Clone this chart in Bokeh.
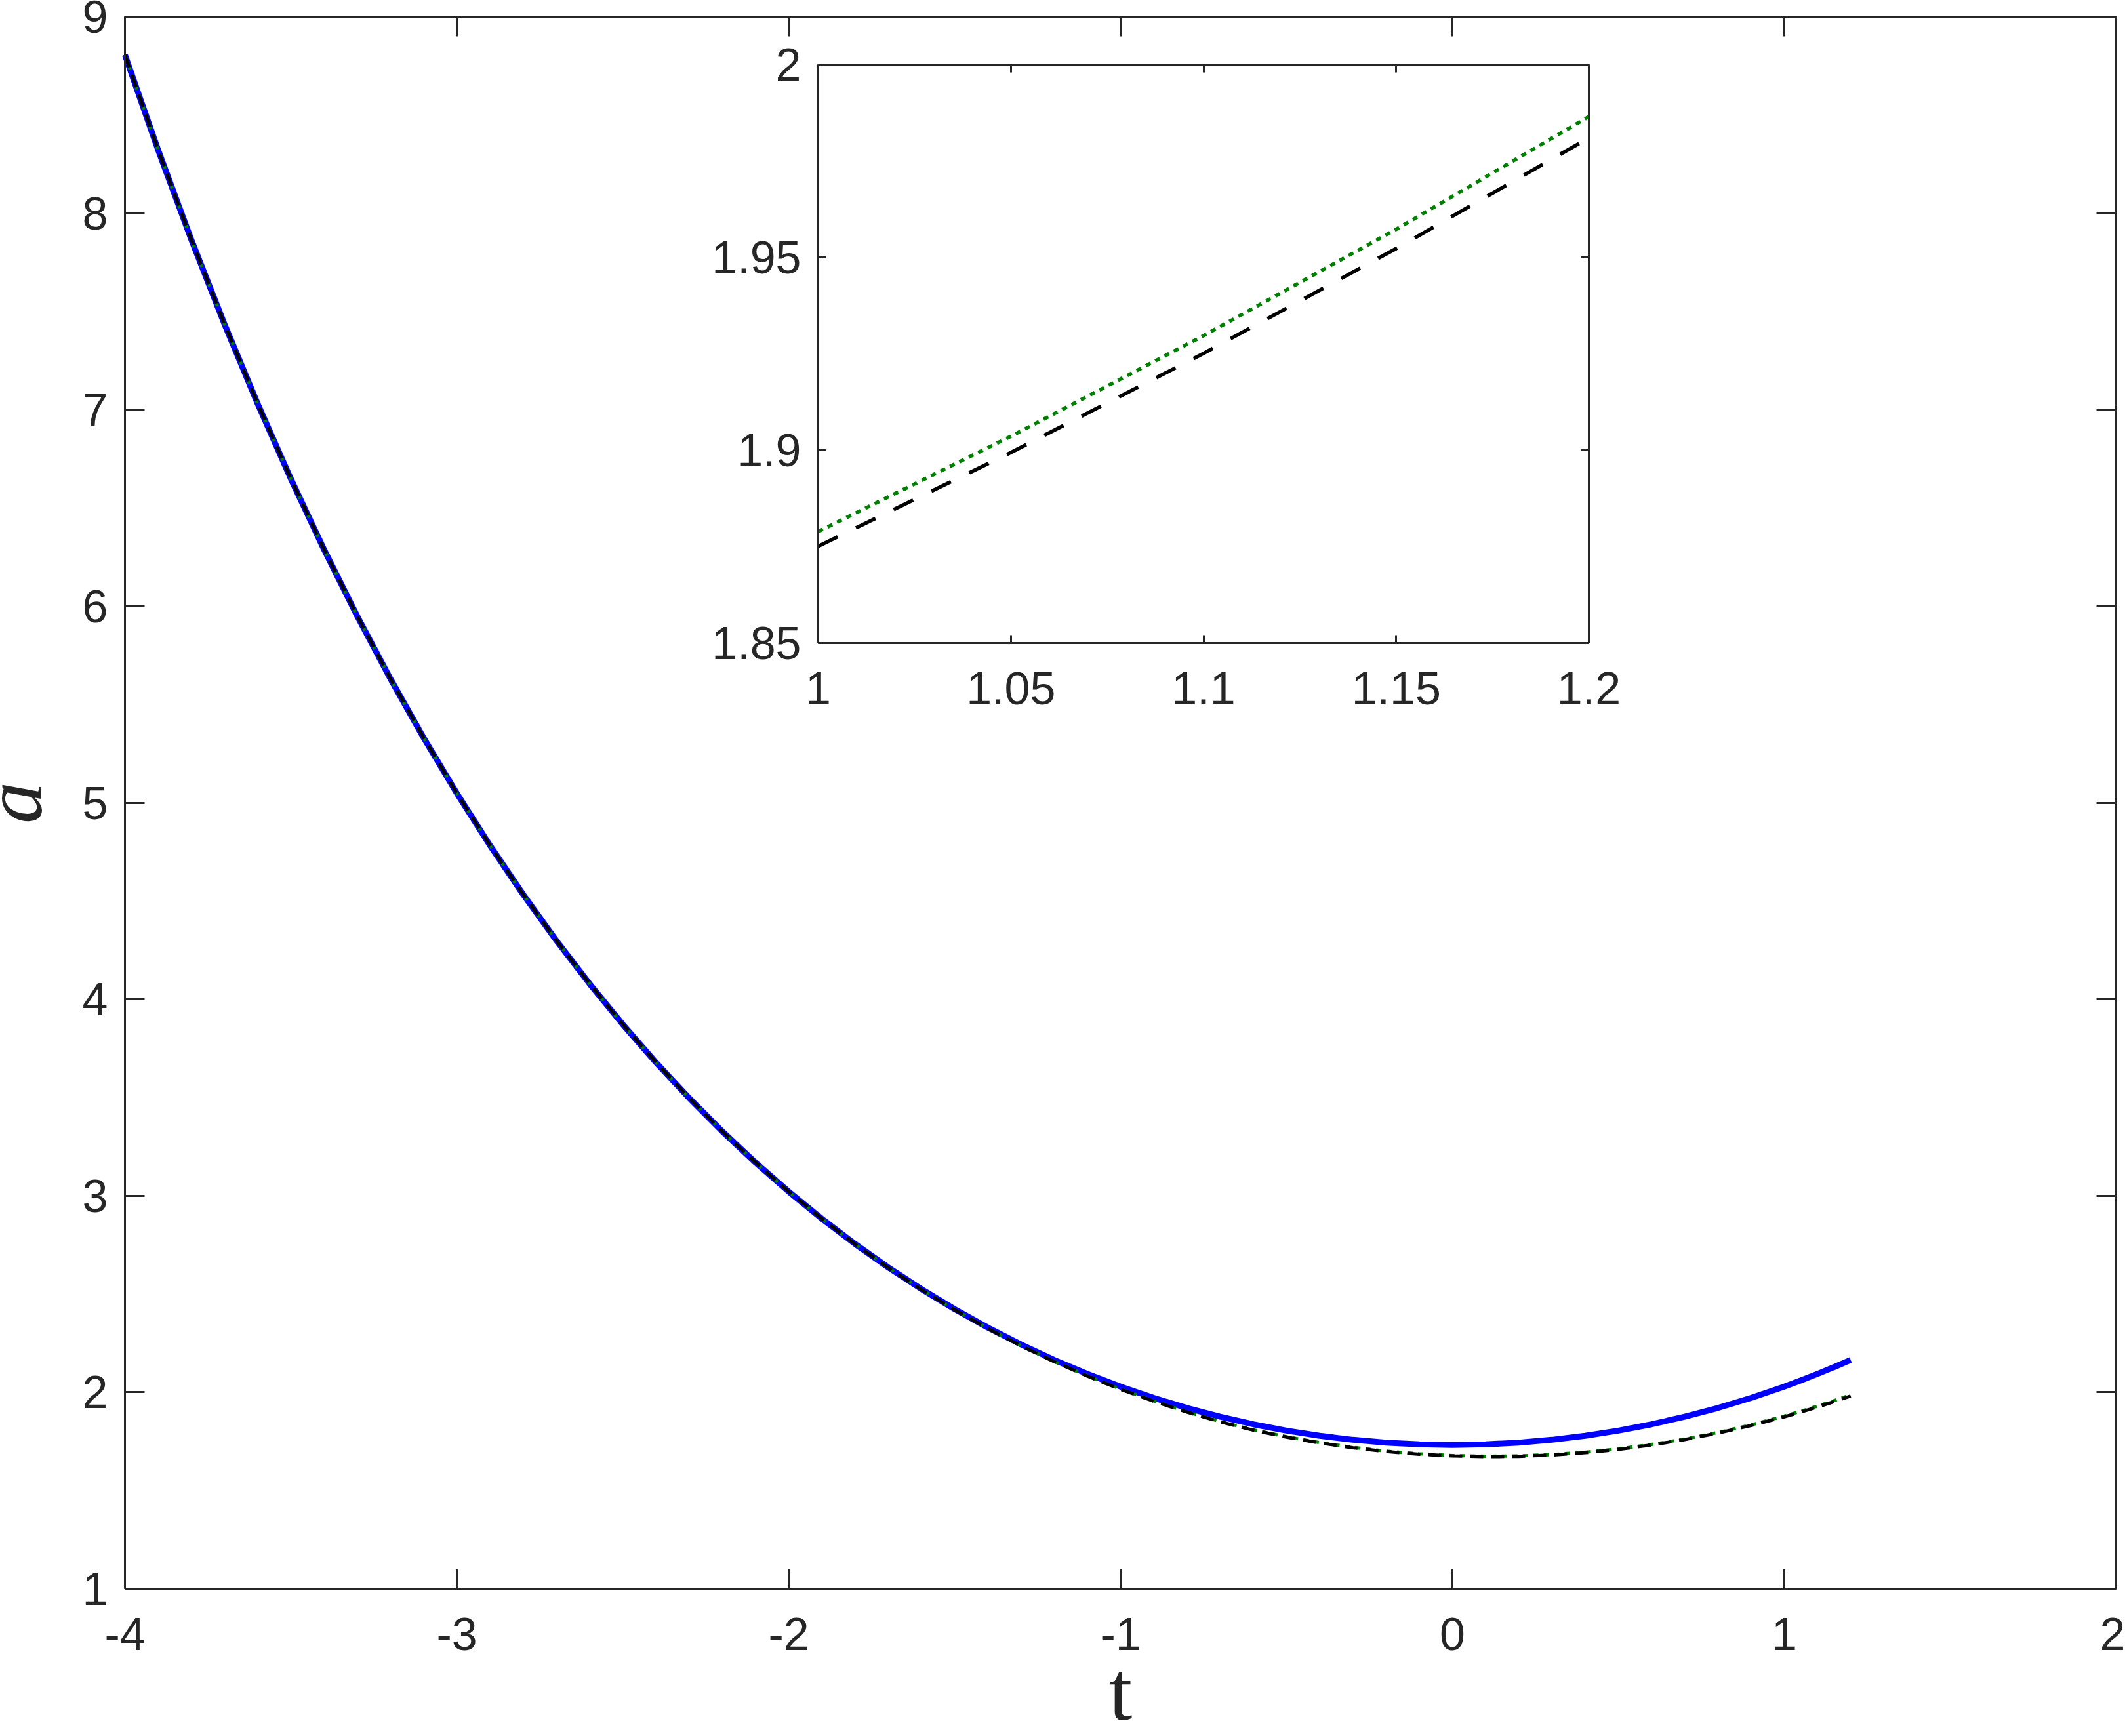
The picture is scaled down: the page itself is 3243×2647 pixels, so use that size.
import math
from bokeh.plotting import figure
from bokeh.models import Range1d, LinearAxis, FixedTicker, Label, CustomLabelingPolicy
from bokeh.embed import file_html
from bokeh.resources import INLINE

# ---------------- data ----------------
t = [-4.0, -3.9, -3.8, -3.7, -3.6, -3.5, -3.4, -3.3, -3.2, -3.1,
     -3.0, -2.9, -2.8, -2.7, -2.6, -2.5, -2.4, -2.3, -2.2, -2.1,
     -2.0, -1.9, -1.8, -1.7, -1.6, -1.5, -1.4, -1.3, -1.2, -1.1,
     -1.0, -0.9, -0.8, -0.7, -0.6, -0.5, -0.4, -0.3, -0.2, -0.1,
     0.0, 0.1, 0.2, 0.3, 0.4, 0.5, 0.6, 0.7, 0.8, 0.9,
     1.0, 1.05, 1.1, 1.15, 1.2]

a_blue = [8.8055, 8.3215, 7.8652, 7.4351, 7.0298, 6.6479, 6.2883, 5.9495, 5.6306, 5.3305,
          5.0482, 4.7827, 4.5331, 4.2987, 4.0786, 3.8721, 3.6785, 3.4972, 3.3275, 3.1689,
          3.0209, 2.8830, 2.7546, 2.6355, 2.5251, 2.4232, 2.3293, 2.2433, 2.1647, 2.0933,
          2.0288, 1.9712, 1.9201, 1.8754, 1.8370, 1.8047, 1.7784, 1.7581, 1.7436, 1.7349,
          1.7321, 1.7349, 1.7436, 1.7581, 1.7784, 1.8047, 1.8370, 1.8754, 1.9201, 1.9712,
          2.0288, 2.0602, 2.0933, 2.1281, 2.1647]

a_black = [8.8055, 8.3215, 7.8652, 7.4351, 7.0298, 6.6479, 6.2883, 5.9495, 5.6306, 5.3305,
           5.0482, 4.7827, 4.5331, 4.2987, 4.0786, 3.8721, 3.6785, 3.4972, 3.3275, 3.1689,
           3.0209, 2.8830, 2.7536, 2.6335, 2.5221, 2.4192, 2.3243, 2.2363, 2.1557, 2.0823,
           2.0148, 1.9542, 1.8991, 1.8497, 1.8071, 1.7718, 1.7420, 1.7176, 1.6984, 1.6845,
           1.6757, 1.6721, 1.6736, 1.6803, 1.6922, 1.7093, 1.7316, 1.7592, 1.7923, 1.8309,
           1.8751, 1.8994, 1.9251, 1.9523, 1.9810]

a_green = [8.8055, 8.3215, 7.8652, 7.4351, 7.0298, 6.6479, 6.2883, 5.9495, 5.6306, 5.3305,
           5.0482, 4.7827, 4.5331, 4.2987, 4.0786, 3.8721, 3.6785, 3.4972, 3.3275, 3.1689,
           3.0209, 2.8830, 2.7540, 2.6340, 2.5226, 2.4198, 2.3250, 2.2371, 2.1566, 2.0833,
           2.0159, 1.9554, 1.9004, 1.8511, 1.8086, 1.7734, 1.7437, 1.7194, 1.7003, 1.6865,
           1.6778, 1.6743, 1.6759, 1.6827, 1.6947, 1.7119, 1.7343, 1.7620, 1.7952, 1.8340,
           1.8789, 1.9036, 1.9297, 1.9573, 1.9865]

x_ticks = [-4, -3, -2, -1, 0, 1, 2]
x_tick_labels = ["-4", "-3", "-2", "-1", "0", "1", "2"]
y_ticks = [1, 2, 3, 4, 5, 6, 7, 8, 9]
y_tick_labels = ["1", "2", "3", "4", "5", "6", "7", "8", "9"]

inset_x_ticks = [1.0, 1.05, 1.1, 1.15, 1.2]
inset_x_tick_labels = ["1", "1.05", "1.1", "1.15", "1.2"]
inset_y_ticks = [1.85, 1.9, 1.95, 2.0]
inset_y_tick_labels = ["1.85", "1.9", "1.95", "2"]

x_label = "t"
y_label = "a"

# ---------------- layout (page pixels) ----------------
W, H = 3240, 2644
# main axes box
M_L, M_R, M_T, M_B = 190, 3226, 25, 2422
# inset axes box
I_L, I_R, I_T, I_B = 1247, 2422, 98, 980
# axis-label anchors (page pixels)
YLAB_X = 19
XLAB_Y = 2578

x0, x1 = x_ticks[0], x_ticks[-1]
y0, y1 = y_ticks[0], y_ticks[-1]
ux = (x1 - x0) / (M_R - M_L)
uy = (y1 - y0) / (M_B - M_T)
x_start, x_end = x0 - M_L * ux, x0 - M_L * ux + W * ux
y_start, y_end = y0 - (H - M_B) * uy, y0 - (H - M_B) * uy + H * uy

ix0, ix1 = inset_x_ticks[0], inset_x_ticks[-1]
iy0, iy1 = inset_y_ticks[0], inset_y_ticks[-1]
vx = (ix1 - ix0) / (I_R - I_L)
vy = (iy1 - iy0) / (I_B - I_T)
ix_start = ix0 - I_L * vx
iy_start = iy0 - (H - I_B) * vy

AX_COLOR = "#262626"
FONT = "Liberation Sans"

p = figure(width=W, height=H, output_backend="svg", toolbar_location=None,
           x_range=Range1d(x_start, x_end), y_range=Range1d(y_start, y_end),
           x_axis_location=None, y_axis_location=None,
           min_border=0)
p.extra_x_ranges = {"ix": Range1d(ix_start, ix_start + W * vx)}
p.extra_y_ranges = {"iy": Range1d(iy_start, iy_start + H * vy)}
p.outline_line_color = None
p.xgrid.visible = False
p.ygrid.visible = False
p.background_fill_color = "white"
p.border_fill_color = "white"

NO_LABELS = CustomLabelingPolicy(code="""
for (const i of indices) { indices.unset(i) }
return indices
""")


def make_axis(side, ticks, labels, loc, bounds, show_labels, tick_len, standoff,
              inset=False):
    kw = dict(fixed_location=loc, bounds=bounds)
    if inset:
        kw.update(x_range_name="ix", y_range_name="iy")
    ax = LinearAxis(**kw)
    ax.ticker = FixedTicker(ticks=ticks)
    ax.major_label_overrides = {tk: lb for tk, lb in zip(ticks, labels)}
    ax.major_tick_in = tick_len
    ax.major_tick_out = 0
    ax.minor_tick_line_color = None
    ax.axis_line_color = AX_COLOR
    ax.axis_line_width = 3
    ax.major_tick_line_color = AX_COLOR
    ax.major_tick_line_width = 3
    ax.major_label_text_font = FONT
    ax.major_label_text_color = AX_COLOR
    ax.major_label_text_font_size = "70px"
    ax.major_label_standoff = standoff
    if not show_labels:
        ax.major_label_policy = NO_LABELS
    p.add_layout(ax, side)
    return ax


# main box
make_axis("below", x_ticks, x_tick_labels, y0, (x0, x1), True, 30, 44)
make_axis("left", y_ticks, y_tick_labels, x0, (y0, y1), True, 30, 26)
make_axis("above", x_ticks, x_tick_labels, y1, (x0, x1), False, 30, 0)
make_axis("right", y_ticks, y_tick_labels, x1, (y0, y1), False, 30, 0)

# inset box
make_axis("below", inset_x_ticks, inset_x_tick_labels, iy0, (ix0, ix1), True, 12, 44, True)
make_axis("left", inset_y_ticks, inset_y_tick_labels, ix0, (iy0, iy1), True, 12, 26, True)
make_axis("above", inset_x_ticks, inset_x_tick_labels, iy1, (ix0, ix1), False, 12, 0, True)
make_axis("right", inset_y_ticks, inset_y_tick_labels, ix1, (iy0, iy1), False, 12, 0, True)

# ---------------- main curves ----------------
p.line(t, a_blue, line_color="#0000FF", line_width=9, line_join="round")
p.line(t, a_green, line_color="#008000", line_width=5, line_dash="8 8")
p.line(t, a_black, line_color="#000000", line_width=5, line_dash="20 12")

# ---------------- inset curves ----------------
idx = [i for i, v in enumerate(t) if ix0 <= v <= ix1]
ti = [t[i] for i in idx]
p.line(ti, [a_green[i] for i in idx], x_range_name="ix", y_range_name="iy",
       line_color="#008000", line_width=5.5, line_dash="8 8")
p.line(ti, [a_black[i] for i in idx], x_range_name="ix", y_range_name="iy",
       line_color="#000000", line_width=5.5, line_dash="33 31")

# ---------------- axis labels ----------------
p.add_layout(Label(x=YLAB_X, y=H - (M_T + M_B) / 2, x_units="screen", y_units="screen",
                   text=y_label, angle=math.pi / 2, text_align="center",
                   text_baseline="alphabetic", text_font="Liberation Serif",
                   text_font_style="italic", text_font_size="128px",
                   text_color=AX_COLOR))
p.add_layout(Label(x=(M_L + M_R) / 2, y=H - XLAB_Y, x_units="screen", y_units="screen",
                   text=x_label, text_align="center",
                   text_baseline="alphabetic", text_font="Liberation Serif",
                   text_font_size="128px", text_color=AX_COLOR))

open("out.html", "w").write(file_html(p, INLINE))
